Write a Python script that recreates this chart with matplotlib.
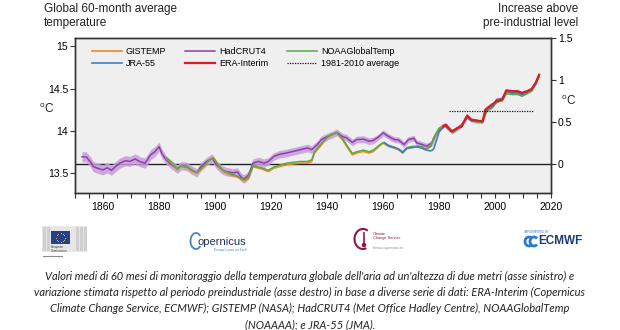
import numpy as np
import matplotlib
matplotlib.use("Agg")
import matplotlib.pyplot as plt
from matplotlib.patches import Rectangle, Arc, Circle

plt.rcParams['font.family'] = ['Liberation Sans', 'DejaVu Sans']
plt.rcParams['mathtext.default'] = 'regular'

# HadCRUT4 (60-month running mean, degC) with its uncertainty half-width
had_years = [1852.5, 1854, 1855.5, 1856.5, 1858, 1860, 1861.5, 1863, 1864.5, 1866,
             1868, 1869.5, 1871.5, 1873, 1875, 1877, 1878.5, 1880, 1881, 1882.5,
             1884.5, 1886.5, 1888, 1890, 1891.5, 1893.5, 1895, 1897, 1899, 1900.5,
             1902.5, 1904, 1906.5, 1908, 1909.5, 1910.5, 1912, 1913.5, 1915.5, 1917.5,
             1919, 1921, 1923, 1925.5, 1928, 1930.5, 1933, 1934.5, 1936.5, 1938,
             1940, 1941.5, 1943.5, 1945.5, 1947, 1949, 1950.5, 1953, 1955, 1956.5,
             1958.5, 1960, 1962, 1964, 1965.5, 1967.5, 1969, 1971, 1972, 1974,
             1975.5, 1977.5, 1979, 1981, 1982, 1983.5, 1984.5, 1986.5, 1988, 1990,
             1991.5, 1993.5, 1995.5, 1997, 1999, 2000.5, 2002.5, 2004, 2006, 2008,
             2009.5, 2011.5, 2013, 2014.5, 2015.5]
had_vals = [13.69, 13.69, 13.63, 13.575, 13.555, 13.535, 13.56, 13.53, 13.575, 13.615,
            13.645, 13.635, 13.665, 13.635, 13.615, 13.715, 13.75, 13.81, 13.73, 13.655,
            13.595, 13.545, 13.585, 13.575, 13.535, 13.50, 13.575, 13.635, 13.675, 13.595,
            13.535, 13.515, 13.50, 13.51, 13.44, 13.43, 13.475, 13.615, 13.635, 13.615,
            13.635, 13.695, 13.72, 13.735, 13.755, 13.775, 13.795, 13.775, 13.835, 13.895,
            13.93, 13.95, 13.98, 13.93, 13.915, 13.86, 13.895, 13.90, 13.875, 13.885,
            13.93, 13.975, 13.93, 13.895, 13.89, 13.835, 13.895, 13.91, 13.855, 13.835,
            13.815, 13.855, 13.97, 14.05, 14.07, 14.02, 13.99, 14.03, 14.07, 14.17,
            14.13, 14.11, 14.11, 14.25, 14.29, 14.37, 14.375, 14.465, 14.45, 14.465,
            14.43, 14.465, 14.49, 14.57, 14.645]
had_unc = [0.06, 0.06, 0.06, 0.06, 0.06, 0.06, 0.06, 0.06, 0.06, 0.06,
           0.06, 0.06, 0.06, 0.06, 0.06, 0.06, 0.06, 0.055, 0.055, 0.05,
           0.05, 0.05, 0.05, 0.05, 0.05, 0.05, 0.05, 0.05, 0.05, 0.05,
           0.05, 0.05, 0.05, 0.05, 0.05, 0.05, 0.05, 0.05, 0.05, 0.05,
           0.045, 0.045, 0.045, 0.045, 0.045, 0.045, 0.045, 0.045, 0.045, 0.045,
           0.04, 0.04, 0.04, 0.04, 0.04, 0.04, 0.04, 0.04, 0.04, 0.04,
           0.035, 0.035, 0.035, 0.035, 0.035, 0.035, 0.035, 0.035, 0.035, 0.035,
           0.035, 0.035, 0.03, 0.03, 0.03, 0.03, 0.03, 0.03, 0.03, 0.03,
           0.025, 0.025, 0.025, 0.025, 0.025, 0.025, 0.025, 0.025, 0.025, 0.025,
           0.025, 0.025, 0.025, 0.025, 0.025]

# GISTEMP and NOAAGlobalTemp share the same sampling years
gn_years = [1882.5, 1884, 1886.5, 1888, 1890, 1892, 1893.5, 1896, 1898, 1899.5,
            1901, 1903, 1905.5, 1908, 1909.5, 1910.5, 1912, 1913.5, 1915.5, 1917.5,
            1919, 1921, 1923, 1925.5, 1928, 1930.5, 1933, 1934.5, 1935.5, 1937.5,
            1940, 1941.5, 1943.5, 1945.5, 1947, 1949, 1950.5, 1953, 1955, 1956.5,
            1958.5, 1960, 1962, 1964, 1965.5, 1967, 1968.5, 1970.5, 1972, 1974,
            1975, 1977, 1978, 1980, 1982, 1983.5, 1985, 1986.5, 1988, 1990,
            1991.5, 1993.5, 1995.5, 1997, 1999, 2000.5, 2002.5, 2004, 2006, 2008,
            2009.5, 2011.5, 2013, 2014.5, 2015.5]
gistemp_vals = [13.67, 13.63, 13.535, 13.575, 13.56, 13.515, 13.497, 13.575, 13.655, 13.675,
                13.595, 13.515, 13.475, 13.45, 13.417, 13.405, 13.437, 13.575, 13.556, 13.536,
                13.515, 13.556, 13.575, 13.595, 13.607, 13.615, 13.615, 13.634, 13.735, 13.813,
                13.913, 13.952, 13.973, 13.893, 13.813, 13.714, 13.735, 13.754, 13.735, 13.754,
                13.813, 13.854, 13.813, 13.794, 13.774, 13.735, 13.794, 13.806, 13.806, 13.806,
                13.774, 13.813, 13.913, 14.03, 14.06, 14.01, 13.985, 14.02, 14.05, 14.16,
                14.12, 14.11, 14.105, 14.24, 14.28, 14.34, 14.36, 14.45, 14.44, 14.44,
                14.42, 14.45, 14.48, 14.56, 14.64]
noaa_vals = [13.68, 13.64, 13.55, 13.585, 13.57, 13.525, 13.505, 13.58, 13.655, 13.67,
             13.60, 13.525, 13.49, 13.46, 13.43, 13.42, 13.45, 13.585, 13.57, 13.55,
             13.53, 13.57, 13.59, 13.615, 13.625, 13.635, 13.635, 13.655, 13.75, 13.83,
             13.92, 13.955, 13.975, 13.905, 13.83, 13.73, 13.75, 13.77, 13.75, 13.77,
             13.825, 13.86, 13.825, 13.805, 13.785, 13.75, 13.80, 13.815, 13.815, 13.81,
             13.78, 13.815, 13.91, 14.03, 14.06, 14.01, 13.98, 14.02, 14.05, 14.155,
             14.115, 14.105, 14.10, 14.235, 14.275, 14.335, 14.355, 14.44, 14.43, 14.43,
             14.41, 14.44, 14.47, 14.55, 14.63]

jra_years = [1960.5, 1962, 1964, 1965.5, 1967, 1968.5, 1970.5, 1972, 1974, 1975.5,
             1977, 1978, 1979, 1980, 1982, 1983.5, 1985, 1986.5, 1988, 1990,
             1991.5, 1993.5, 1995.5, 1997, 1999, 2000.5, 2002.5, 2004, 2006, 2008,
             2009.5, 2011.5, 2013, 2014.5, 2015.5]
jra_vals = [13.86, 13.82, 13.80, 13.78, 13.74, 13.79, 13.80, 13.81, 13.79, 13.77,
            13.76, 13.78, 13.88, 13.99, 14.06, 14.02, 13.99, 14.03, 14.06, 14.16,
            14.12, 14.12, 14.11, 14.26, 14.29, 14.36, 14.38, 14.47, 14.45, 14.45,
            14.43, 14.46, 14.49, 14.56, 14.64]

era_years = [1981.5, 1982.5, 1983.5, 1984.5, 1986.5, 1988, 1990, 1991.5, 1993.5, 1995.5,
             1996.5, 1998, 2000.5, 2002.5, 2004, 2006, 2008, 2009.5, 2011.5, 2013,
             2014.5, 2015.7]
era_vals = [14.05, 14.07, 14.03, 13.99, 14.03, 14.05, 14.18, 14.13, 14.12, 14.11,
            14.25, 14.29, 14.35, 14.37, 14.48, 14.47, 14.47, 14.45, 14.47, 14.495,
            14.57, 14.665]

avg_span = [1983.5, 2013.5]
avg_value = 14.235
preindustrial = 13.6

left_ticks = [13.5, 14, 14.5, 15]
left_labels = ["13.5", "14", "14.5", "15"]
right_ticks = [0, 0.5, 1, 1.5]
right_labels = ["0", "0.5", "1", "1.5"]
year_ticks = [1860, 1880, 1900, 1920, 1940, 1960, 1980, 2000, 2020]

caption = [
    "Valori medi di 60 mesi di monitoraggio della temperatura globale dell'aria ad un'altezza di due metri (asse sinistro) e",
    "variazione stimata rispetto al periodo preindustriale (asse destro) in base a diverse serie di dati: ERA-Interim (Copernicus",
    "Climate Change Service, ECMWF); GISTEMP (NASA); HadCRUT4 (Met Office Hadley Centre), NOAAGlobalTemp",
    "(NOAAAA); e JRA-55 (JMA).",
]

col_gis = '#f0871f'
col_had = '#8e3fa8'
col_noaa = '#4fae48'
col_jra = '#3f7fc2'
col_era = '#dc1c1f'

fig = plt.figure(figsize=(6.2, 3.3), dpi=100)
fig.patch.set_facecolor('white')
ax = fig.add_axes([0.121, 0.415, 0.768, 0.4697])
ax.set_facecolor('#efefef')

ylo, yhi = 13.26, 15.10
ax.set_xlim(1850, 2020)
ax.set_ylim(ylo, yhi)

ax.axhline(preindustrial, color='#222222', lw=1.0, zorder=1)

had_lo = np.array(had_vals) - np.array(had_unc)
had_hi = np.array(had_vals) + np.array(had_unc)
ax.fill_between(had_years, had_lo, had_hi, color='#c69cdb', alpha=0.85, lw=0, zorder=2)
l_had, = ax.plot(had_years, had_vals, color=col_had, lw=1.1, zorder=3)
l_gis, = ax.plot(gn_years, gistemp_vals, color=col_gis, lw=1.2, zorder=4)
l_noaa, = ax.plot(gn_years, noaa_vals, color=col_noaa, lw=1.1, zorder=4)
l_jra, = ax.plot(jra_years, jra_vals, color=col_jra, lw=1.2, zorder=5)
l_era, = ax.plot(era_years, era_vals, color=col_era, lw=1.6, zorder=6)
l_avg, = ax.plot(avg_span, [avg_value, avg_value], color='#111111', lw=0.9,
                 linestyle=(0, (1, 1)), zorder=7)

ax.set_yticks(left_ticks)
ax.set_yticklabels(left_labels)
ax.set_xticks(year_ticks)
ax.set_xticks(np.arange(1850, 2021, 5), minor=True)
ax.tick_params(axis='both', which='both', direction='out', length=3.5, width=0.8,
               labelsize=7.5, color='#333333')
ax.tick_params(axis='x', pad=3)
ax.tick_params(axis='y', pad=1.5)
for sp in ax.spines.values():
    sp.set_color('#333333')
    sp.set_linewidth(1.0)

ax2 = ax.twinx()
ax2.set_ylim(ylo - preindustrial, yhi - preindustrial)
ax2.set_yticks(right_ticks)
ax2.set_yticklabels(right_labels)
ax2.tick_params(axis='y', direction='out', length=3.5, width=0.8, labelsize=7.5,
                pad=1.5, color='#333333')
for sp in ax2.spines.values():
    sp.set_color('#333333')
    sp.set_linewidth(1.0)

ax.legend([l_gis, l_jra, l_had, l_era, l_noaa, l_avg],
          ["GISTEMP", "JRA-55", "HadCRUT4", "ERA-Interim", "NOAAGlobalTemp", "1981-2010 average"],
          ncol=3, loc='upper left', bbox_to_anchor=(0.022, 0.985), frameon=False,
          fontsize=6.5, handlelength=3.3, handletextpad=0.45, columnspacing=2.1,
          labelspacing=0.35, borderaxespad=0.3)

fig.text(44 / 620, 1 - 3 / 330, "Global 60-month average\ntemperature", ha='left', va='top',
         fontsize=8.5, color='#222222', linespacing=1.2)
fig.text(578 / 620, 1 - 3 / 330, "Increase above\npre-industrial level", ha='right', va='top',
         fontsize=8.5, color='#222222', linespacing=1.2, multialignment='right')
fig.text(47 / 620, 1 - 109 / 330, "$^{o}$C", ha='center', va='center', fontsize=8.5, color='#222222')
fig.text(569 / 620, 1 - 101 / 330, "$^{o}$C", ha='center', va='center', fontsize=8.5, color='#222222')

# logos strip, drawn in pixel coordinates
ov = fig.add_axes([0, 0, 1, 1], zorder=-1)
ov.set_xlim(0, 620)
ov.set_ylim(330, 0)
ov.axis('off')

ov.add_patch(Rectangle((42, 226), 45, 26, color='#e6e6e6', lw=0))
for bx in [43, 47, 76, 80, 84]:
    ov.add_patch(Rectangle((bx, 227), 2.5, 24, color='#cfcfcf', lw=0))
ov.add_patch(Rectangle((51, 231), 19, 13, color='#25408f', lw=0))
ang = np.linspace(0, 2 * np.pi, 13)[:-1]
ov.scatter(60.5 + 4.2 * np.cos(ang), 237.5 + 4.2 * np.sin(ang), s=0.6, color='#f4d000', lw=0)
ov.text(51, 249, "European\nCommission", fontsize=2.2, color='#444444', va='center')
ov.plot([43, 62], [256, 256], color='#8a8a8a', lw=0.8)

# Copernicus
ov.add_patch(Arc((196, 241), 11, 16, theta1=50, theta2=310, color='#3f87c6', lw=1.3))
ov.text(198, 242, "opernicus", fontsize=8, color='#1c2f5c', va='center', ha='left')
ov.text(214, 249.5, "Europe's eyes on Earth", fontsize=2.3, color='#3f87c6', va='center')

# Climate Change Service
ov.add_patch(Arc((363, 239), 17, 20, theta1=70, theta2=300, color='#8b1a3c', lw=1.5))
ov.plot([364, 364], [233, 244], color='#8b1a3c', lw=1.2)
ov.add_patch(Circle((364, 245), 1.6, color='#8b1a3c'))
ov.text(373, 236, "Climate\nChange Service", fontsize=2.8, color='#8b1a3c', va='center')
ov.text(373, 248.5, "climate.copernicus.eu", fontsize=2.3, color='#888888', va='center')

# ECMWF
ov.text(524, 232, "IMPLEMENTED BY", fontsize=2, color='#2a6ebb', va='center')
ov.add_patch(Arc((529, 241.5), 8, 9, theta1=45, theta2=315, color='#2a7cc4', lw=2.0))
ov.add_patch(Arc((534, 241.5), 8, 9, theta1=45, theta2=315, color='#2a7cc4', lw=2.0))
ov.text(538, 241.5, "ECMWF", fontsize=8.5, fontweight='bold', color='#1b3c78', va='center')

cap_y = [276, 292.5, 308.5, 324.5]
for line, py in zip(caption, cap_y):
    fig.text(0.5, 1 - py / 330, line, ha='center', va='center', fontsize=8.0,
             style='italic', family=['Lato', 'DejaVu Sans'], color='#222222')

fig.savefig('out.png', dpi=100)
